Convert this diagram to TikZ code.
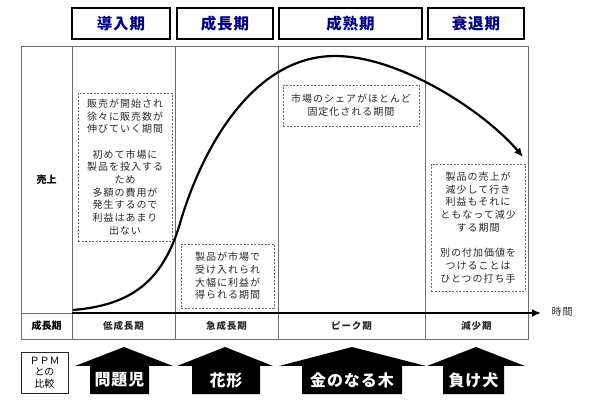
\documentclass[tikz,border=0pt]{standalone}
\usepackage{fontspec}
\setmainfont{Noto Sans CJK JP}
\newfontfamily\spaced{Noto Sans CJK JP}[LetterSpace=10]
\newfontfamily\hspaced{Noto Sans CJK JP}[LetterSpace=6]
\usetikzlibrary{arrows.meta}
\definecolor{navy}{RGB}{0,0,128}
\definecolor{tgray}{RGB}{40,40,40}
\definecolor{lgray}{RGB}{110,110,110}
\tikzset{
  hdr/.style={draw=black, line width=1.3pt, inner sep=0pt, minimum height=31pt,
    font=\hspaced\fontsize{15.5}{15.5}\selectfont\bfseries, text=navy},
  grid/.style={draw=lgray, line width=0.9pt},
  note/.style={draw=lgray, line width=0.8pt, dash pattern=on 2pt off 1.5pt,
    inner sep=0pt, align=center, text=tgray,
    font=\spaced\fontsize{10}{12.7}\selectfont},
  rowlab/.style={font=\fontsize{10}{10}\selectfont\bfseries, text=black},
  phase/.style={font=\spaced\fontsize{9.5}{10}\selectfont\bfseries, text=tgray},
  house/.style={fill=black, draw=none},
  ppm/.style={font=\hspaced\fontsize{16}{16}\selectfont\bfseries, text=white},
}
\begin{document}
\begin{tikzpicture}[x=1pt,y=-1pt]
\useasboundingbox (0,0) rectangle (600,403);
% headers
\node[hdr, minimum width=98pt] (h1) at (121,23.5) {導入期};
\node[hdr, minimum width=96pt] (h2) at (225,23.5) {成長期};
\node[hdr, minimum width=143pt] (h3) at (350.5,23.5) {成熟期};
\node[hdr, minimum width=96pt] (h4) at (476,23.5) {衰退期};
% table
\draw[grid] (21,46) rectangle (528,339);
\foreach \x in {72,175,278,425} \draw[grid] (\x,46) -- (\x,339);
\draw[grid] (21,313) -- (72,313);
% row labels
\node[rowlab] (uri) at (46.5,180) {売上};
\node[rowlab] (sei) at (46.5,326) {成長期};
% phase labels
\node[phase] (p1) at (123.5,326) {低成長期};
\node[phase] (p2) at (226.5,326) {急成長期};
\node[phase] (p3) at (351.5,326) {ピーク期};
\node[phase] (p4) at (476.5,326) {減少期};
% axis
\coordinate (ax0) at (72,313);
\coordinate (ax1) at (541,313);
\draw[line width=2pt, -{Latex[length=9pt,width=8pt]}] (ax0) -- (ax1);
\node[text=tgray, font=\spaced\fontsize{10}{10}\selectfont] (time) at (562,312) {時間};
% curve
\coordinate (c0) at (73,310);
\coordinate (c1) at (181,220);
\coordinate (c2) at (335,56);
\coordinate (c3) at (523,157);
\draw[line width=2.2pt, -{Latex[length=9pt,width=8pt]}]
  (c0) .. controls (133,305) and (164,280) .. (c1)
       .. controls (202,150) and (252,56) .. (c2)
       .. controls (400,56) and (485,112) .. (c3);
% notes
\node[note, minimum width=94pt, minimum height=148pt] (n1) at (125,167)
  {販売が開始され\\徐々に販売数が\\伸びていく期間\\[12.7pt]初めて市場に\\製品を投入する\\ため\\多額の費用が\\発生するので\\利益はあまり\\出ない};
\node[note, fill=white, minimum width=93pt, minimum height=64pt] (n2) at (227.5,276)
  {製品が市場で\\受け入れられ\\大幅に利益が\\得られる期間};
\node[note, fill=white, minimum width=136pt, minimum height=41pt] (n3) at (351,105.5)
  {市場のシェアがほとんど\\固定化される期間};
\node[note, fill=white, minimum width=94pt, minimum height=127pt] (n4) at (478,227.5)
  {製品の売上が\\減少して行き\\利益もそれに\\ともなって減少\\する期間\\[12.7pt]別の付加価値を\\つけることは\\ひとつの打ち手};
% PPM box
\node[draw=tgray, line width=0.9pt, minimum width=47pt, minimum height=41pt, inner sep=0pt,
  align=center, font=\fontsize{10}{11.5}\selectfont, text=black] (ppmbox) at (44.5,372.5)
  {ＰＰＭ\\との\\比較};
% houses
\fill[house] (124,347) -- (173,366) -- (149,366) -- (149,394) -- (90,394) -- (90,366) -- (75,366) -- cycle;
\fill[house] (225,347) -- (273,366) -- (260,366) -- (260,394) -- (192,394) -- (192,366) -- (177,366) -- cycle;
\fill[house] (352,347) -- (426,366) -- (402,366) -- (402,394) -- (302,394) -- (302,366) -- (279,366) -- cycle;
\fill[house] (476,347) -- (525,366) -- (504,366) -- (504,394) -- (443,394) -- (443,366) -- (427,366) -- cycle;
\node[ppm] (k1) at (119.5,380) {問題児};
\node[ppm] (k2) at (226,380) {花形};
\node[ppm] (k3) at (352,380) {金のなる木};
\node[ppm] (k4) at (473.5,380) {負け犬};
\end{tikzpicture}
\end{document}
